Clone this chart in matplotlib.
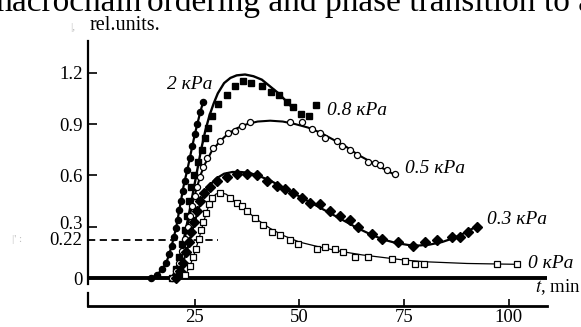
import matplotlib
matplotlib.use("Agg")
import matplotlib.pyplot as plt
from matplotlib.transforms import ScaledTranslation

plt.rcParams['font.family'] = ['Liberation Serif', 'DejaVu Serif']
plt.rcParams['mathtext.fontset'] = 'stix'

# ---- data ----
# 2 kPa : filled circles
t_c = [14.6, 16.0, 17.2, 18.2, 18.9, 19.5, 20.0, 20.5, 20.9, 21.3, 21.7, 22.1, 22.6, 23.2, 23.8, 24.4, 25.0, 25.6, 26.3, 27.0]
y_c = [0.00, 0.02, 0.05, 0.09, 0.14, 0.19, 0.24, 0.29, 0.34, 0.40, 0.45, 0.51, 0.57, 0.63, 0.70, 0.77, 0.84, 0.90, 0.97, 1.03]

# 0.8 kPa : filled squares
t_s = [19.5, 20.5, 21.3, 22.0, 22.6, 23.1, 23.6, 24.1, 24.8, 25.8, 26.7, 27.4, 28.2, 29.1, 30.5, 32.7, 34.6, 36.5, 38.5, 41.0, 43.2, 45.2, 47.0, 48.5, 50.4, 52.3, 54.0]
y_s = [0.00, 0.05, 0.12, 0.20, 0.28, 0.36, 0.45, 0.53, 0.60, 0.68, 0.75, 0.82, 0.88, 0.95, 1.02, 1.07, 1.12, 1.15, 1.14, 1.12, 1.09, 1.07, 1.03, 1.00, 0.96, 0.95, 1.01]
fit_t_s = [19.5, 20.5, 21.5, 22.5, 23.5, 24.5, 25.5, 26.5, 27.5, 28.5, 29.5, 30.5, 32.0, 33.5, 35.0, 37.0, 39.0, 41.0, 43.0, 45.0, 47.0, 48.5]
fit_y_s = [0.00, 0.05, 0.13, 0.24, 0.36, 0.49, 0.62, 0.75, 0.86, 0.95, 1.02, 1.08, 1.14, 1.17, 1.185, 1.19, 1.18, 1.16, 1.12, 1.08, 1.03, 0.99]

# 0.5 kPa : open circles
t_o = [19.5, 20.5, 21.3, 22.0, 22.7, 23.3, 23.9, 24.4, 25.0, 25.5, 26.2, 27.0, 28.0, 29.4, 31.0, 33.0, 34.6, 36.3, 38.2, 47.7, 50.6, 53.0, 55.0, 56.1, 58.9, 60.1, 62.0, 63.7, 66.3, 68.0, 69.2, 70.9, 72.8]
y_o = [0.00, 0.04, 0.09, 0.16, 0.23, 0.30, 0.36, 0.42, 0.48, 0.53, 0.59, 0.65, 0.70, 0.76, 0.80, 0.85, 0.86, 0.89, 0.91, 0.91, 0.91, 0.87, 0.85, 0.82, 0.80, 0.77, 0.75, 0.72, 0.68, 0.67, 0.66, 0.63, 0.61]
fit_t_o = [19.5, 20.5, 21.5, 22.5, 23.5, 24.5, 25.5, 26.5, 27.5, 29.0, 31.0, 33.0, 35.0, 37.5, 40.0, 43.0, 46.0, 49.0, 52.0, 55.0, 58.0, 61.0, 64.0, 67.0, 70.0, 73.0]
fit_y_o = [0.00, 0.04, 0.12, 0.22, 0.33, 0.44, 0.53, 0.61, 0.67, 0.74, 0.80, 0.845, 0.875, 0.90, 0.915, 0.92, 0.915, 0.90, 0.88, 0.85, 0.81, 0.77, 0.72, 0.68, 0.64, 0.60]

# 0.3 kPa : filled diamonds
t_d = [20.5, 21.5, 22.3, 23.0, 23.6, 24.2, 24.8, 25.5, 26.3, 27.3, 28.6, 30.3, 32.7, 35.1, 37.5, 39.9, 42.2, 44.6, 46.5, 48.4, 50.6, 52.5, 54.9, 57.3, 59.7, 62.0, 64.0, 67.3, 69.7, 73.5, 77.1, 80.0, 82.8, 86.4, 88.3, 90.2, 92.4]
y_d = [0.00, 0.04, 0.09, 0.15, 0.21, 0.27, 0.33, 0.39, 0.45, 0.50, 0.53, 0.57, 0.59, 0.61, 0.61, 0.60, 0.57, 0.54, 0.52, 0.50, 0.47, 0.44, 0.43, 0.39, 0.36, 0.34, 0.30, 0.26, 0.23, 0.21, 0.19, 0.21, 0.22, 0.24, 0.24, 0.27, 0.30]
fit_t_d = [20, 21, 22, 23, 24, 25, 26, 27, 28.5, 30, 32, 34, 36, 38, 40, 43, 46, 49, 52, 55, 58, 61, 64, 67, 70, 73, 76, 78.5, 81, 84, 87, 90, 92.4]
fit_y_d = [0.00, 0.03, 0.08, 0.15, 0.24, 0.33, 0.41, 0.48, 0.54, 0.58, 0.61, 0.62, 0.62, 0.615, 0.60, 0.57, 0.53, 0.49, 0.45, 0.41, 0.37, 0.33, 0.29, 0.255, 0.225, 0.205, 0.193, 0.19, 0.195, 0.21, 0.235, 0.27, 0.305]

# 0 kPa : open squares
t_q = [22.7, 23.9, 24.6, 25.3, 25.9, 26.4, 27.0, 27.6, 28.3, 29.1, 31.0, 33.4, 35.1, 36.3, 37.5, 39.4, 41.3, 43.4, 45.3, 47.7, 49.6, 54.2, 56.0, 58.5, 60.4, 63.2, 66.3, 72.0, 75.2, 77.6, 79.7, 97.1, 101.9]
y_q = [0.02, 0.07, 0.12, 0.17, 0.23, 0.28, 0.33, 0.38, 0.43, 0.47, 0.50, 0.47, 0.44, 0.42, 0.39, 0.35, 0.31, 0.27, 0.25, 0.22, 0.20, 0.17, 0.18, 0.17, 0.15, 0.12, 0.12, 0.11, 0.10, 0.08, 0.08, 0.08, 0.08]
fit_t_q = [22, 23, 24, 25, 26, 27, 28, 29, 30, 31, 32.5, 34, 36, 38, 40, 43, 46, 50, 55, 60, 65, 70, 75, 80, 90, 102]
fit_y_q = [0.00, 0.03, 0.08, 0.15, 0.23, 0.32, 0.40, 0.46, 0.49, 0.50, 0.49, 0.46, 0.42, 0.38, 0.34, 0.29, 0.25, 0.21, 0.18, 0.155, 0.135, 0.12, 0.105, 0.095, 0.085, 0.08]

series_labels = ["2 кPa", "0.8 кPa", "0.5 кPa", "0.3 кPa", "0 кPa"]
label_pos = [(18.4, 1.13), (56.6, 0.98), (75.2, 0.64), (94.7, 0.345), (104.5, 0.082)]

y_ticks = [0, 0.3, 0.6, 0.9, 1.2]
y_ticklabels = ["0", "0.3", "0.6", "0.9", "1.2"]
x_ticks = [25, 50, 75, 100]
threshold = 0.22
threshold_end = 30.5

W, H = 581, 327
fig = plt.figure(figsize=(W / 100, H / 100), dpi=100)
ax = fig.add_axes([88 / W, 1 - 306 / H, (547 - 88) / W, (306 - 41) / H])
ax.set_xlim(-0.5, 109.1)
ax.set_ylim(-0.1637, 1.386)

k = 'black'
# fitted lines
ax.plot(t_c, y_c, color=k, lw=1.6, zorder=2)
ax.plot(fit_t_s, fit_y_s, color=k, lw=1.7, zorder=2)
ax.plot(fit_t_o, fit_y_o, color=k, lw=1.5, zorder=2)
ax.plot(fit_t_d, fit_y_d, color=k, lw=1.6, zorder=2)
ax.plot(fit_t_q, fit_y_q, color=k, lw=0.9, zorder=2)

# markers
ax.plot(t_c, y_c, 'o', color=k, ms=4.4, zorder=3, clip_on=False)
ax.plot(t_s, y_s, 's', color=k, ms=4.8, zorder=3, clip_on=False)
ax.plot(t_o, y_o, 'o', mfc='white', mec=k, mew=0.9, ms=4.4, zorder=3, clip_on=False)
ax.plot(t_d, y_d, 'D', color=k, ms=4.8, zorder=3, clip_on=False)
ax.plot(t_q, y_q, 's', mfc='white', mec=k, mew=0.9, ms=4.4, zorder=4, clip_on=False)

# zero line and threshold
ax.plot([-0.5, 109.1], [0, 0], color=k, lw=2.8, solid_capstyle='butt', zorder=1, clip_on=False)
ax.plot([-0.5, threshold_end], [threshold, threshold], color=k, lw=1.3, ls=(0, (4, 2.5)), zorder=1)

for lab, (x, y) in zip(series_labels, label_pos):
    ax.text(x, y, lab, style='italic', fontsize=14, va='center', ha='left')

# axes styling
for s in ['top', 'right']:
    ax.spines[s].set_visible(False)
ax.spines['left'].set_linewidth(1.6)
ax.spines['left'].set_bounds(-0.035, 1.386)
ax.spines['bottom'].set_linewidth(2.0)
ax.plot([-0.5, -0.5], [-0.1637, -0.088], color=k, lw=1.6, clip_on=False)

ax.set_yticks(y_ticks)
ax.set_yticklabels(y_ticklabels)
ax.set_xticks(x_ticks)
ax.set_xticklabels([str(v) for v in x_ticks])
ax.tick_params(axis='y', direction='in', length=6.5, width=1.2, labelsize=13.5, pad=4)
ax.tick_params(axis='x', direction='in', length=5, width=1.2, labelsize=13.5, pad=2)
for lab in ax.get_yticklabels():
    if lab.get_text() == "0.3":
        lab.set_transform(lab.get_transform() + ScaledTranslation(0, 3 / 72, fig.dpi_scale_trans))

ax.text(-0.013, threshold, "0.22", transform=ax.get_yaxis_transform(), ha='right', va='center', fontsize=13.5)
ax.text(117, -0.053, "$t$, min", ha='right', va='center', fontsize=13.5, clip_on=False)

fig.text(90 / W, 1 - 25 / H, "rel.units.", ha='left', va='center', fontsize=14.5)
fig.text(70 / W, 1 - 27 / H, "|,", ha='left', va='center', fontsize=8, color='#bbbbbb')
fig.text(12 / W, 1 - 240 / H, "|' :", ha='left', va='center', fontsize=8, color='#bbbbbb')
fig.text(-14 / W, 1 - 11 / H, "macrochain", ha='left', va='baseline', fontsize=24)
fig.text(147 / W, 1 - 11 / H, "ordering and phase transition to an", ha='left', va='baseline', fontsize=24)

fig.savefig("out.png", dpi=100)
